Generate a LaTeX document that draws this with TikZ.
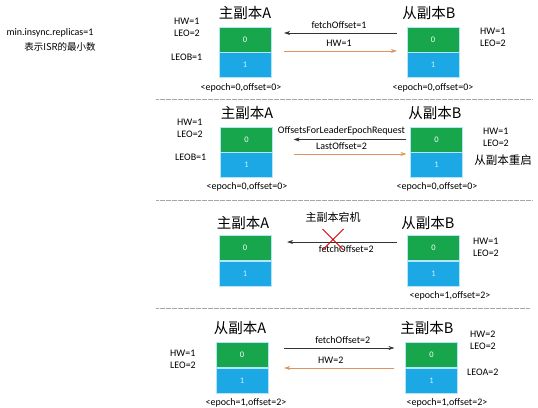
\documentclass[tikz,border=0pt]{standalone}
\usepackage{fontspec}
\setmainfont{Carlito}
\newfontfamily\cjk{Noto Sans CJK SC}
\usetikzlibrary{arrows.meta,positioning,shapes.misc}

\definecolor{cellgreen}{RGB}{24,166,76}
\definecolor{cellblue}{RGB}{28,168,228}
\definecolor{hworange}{RGB}{222,148,92}

\tikzset{
	cella/.style={minimum width=52pt,minimum height=25pt,inner sep=0pt,draw=white!70!cyan,line width=.4pt,text=white,font=\fontsize{8.5}{9}\selectfont},
	cellg/.style={cella,fill=cellgreen},
	cellb/.style={cella,fill=cellblue,text=white!80!cyan},
	ttl/.style={font=\cjk\fontsize{14.5}{16}\selectfont},
	lbl/.style={font=\fontsize{10}{12}\selectfont,align=left,inner sep=0pt,anchor=west},
	ep/.style={font=\fontsize{10}{11}\selectfont,inner sep=0pt},
	albl/.style={font=\fontsize{10}{11}\selectfont,inner sep=1.5pt},
	req/.style={draw=black!80,line width=.5pt,-{Stealth[length=6pt,width=4pt]}},
	rsp/.style={draw=hworange,line width=.6pt,-{Stealth[length=6pt,width=4pt]}},
	sep/.style={draw=black!35,line width=.4pt,dash pattern=on .5pt off .7pt}
}

\begin{document}
\begin{tikzpicture}[x=1pt,y=-1pt]
			\useasboundingbox (0,0) rectangle (538,407);
			\node[font=\fontsize{10}{11}\selectfont] (isr1) at (50,33) {min.insync.replicas=1};
			\node[font=\cjk\fontsize{9.5}{11}\selectfont] (isr2) at (60,47) {表示ISR的最小数};
			
			% leader A, follower B
			\node[ttl] (a1t) at (245,13) {主副本A}; \node[ttl] (b1t) at (429,13) {从副本B};
			\node[cellg] (a1g) at (245,39.5) {0}; \node[cellb,below=0pt of a1g] (a1b) {1};
			\node[cellg] (b1g) at (433,39.5) {0}; \node[cellb,below=0pt of b1g] (b1b) {1};
			\node[lbl] (a1hw) at (174,27) {HW=1\\LEO=2}; \node[lbl] (a1leo) at (171,57) {LEOB=1};
			\node[lbl] (b1hw) at (480,37) {HW=1\\LEO=2};
			\node[ep] (a1e) at (241,88) {<epoch=0,offset=0>}; \node[ep] (b1e) at (433,88) {<epoch=0,offset=0>};
			\draw[req,shorten <=10pt,shorten >=13pt] ([yshift=6.5pt]b1g.west) -- node[albl,above=3pt] {fetchOffset=1} ([yshift=6.5pt]a1g.east);
			\draw[rsp,shorten <=13pt,shorten >=10pt] ([yshift=-11.5pt]a1g.east) -- node[albl,above=3pt] {HW=1} ([yshift=-11.5pt]b1g.west);
			\draw[sep] (156,99) -- (532,99);
			
			% follower B restarts
			\node[ttl] (a2t) at (247,113) {主副本A}; \node[ttl] (b2t) at (435,113) {从副本B};
			\node[cellg] (a2g) at (246.5,139.5) {0}; \node[cellb,below=0pt of a2g] (a2b) {1};
			\node[cellg] (b2g) at (436.5,139.5) {0}; \node[cellb,below=0pt of b2g] (b2b) {1};
			\node[lbl] (a2hw) at (177,128) {HW=1\\LEO=2}; \node[lbl] (a2leo) at (175,157) {LEOB=1};
			\node[lbl] (b2hw) at (483,137) {HW=1\\LEO=2};
			\node[font=\cjk\fontsize{11.5}{13}\selectfont] (b2re) at (503,160) {从副本重启};
			\node[ep] (a2e) at (247,187) {<epoch=0,offset=0>}; \node[ep] (b2e) at (437,187) {<epoch=0,offset=0>};
			\draw[req,shorten <=4pt,shorten >=21pt] (b2g.west) -- node[albl,above=3pt] {OffsetsForLeaderEpochRequest} (a2g.east);
			\draw[rsp,shorten <=21pt,shorten >=4pt] ([yshift=-14.5pt]a2g.east) -- node[albl,above=3pt] {LastOffset=2} ([yshift=-14.5pt]b2g.west);
			\draw[sep] (156,200) -- (532,200);
			
			% leader A goes down
			\node[ttl] (a3t) at (243,223) {主副本A}; \node[ttl] (b3t) at (428,223) {从副本B};
			\node[cellg] (a3g) at (245,248) {0}; \node[cellb,below=0pt of a3g] (a3b) {1};
			\node[cellg] (b3g) at (433.5,248) {0}; \node[cellb,below=0pt of b3g] (b3b) {1};
			\node[lbl] (b3hw) at (473,247) {HW=1\\LEO=2};
			\node[ep] (b3e) at (450,296) {<epoch=1,offset=2>};
			\node[font=\cjk\fontsize{11}{13}\selectfont] (down) at (333,217) {主副本宕机};
			\draw[req,shorten <=10pt,shorten >=16pt] ([yshift=6pt]b3g.west) -- node[albl,below=2pt,xshift=7pt] {fetchOffset=2} ([yshift=6pt]a3g.east);
			\node[cross out,draw=red!85!black,line width=1pt,minimum size=20pt,inner sep=0pt] (xmark) at (333,239.5) {};
			\draw[sep] (156,308) -- (530,308);
			
			% B becomes leader
			\node[ttl] (a4t) at (240,328) {从副本A}; \node[ttl] (b4t) at (427,328) {主副本B};
			\node[cellg] (a4g) at (242,355) {0}; \node[cellb,below=0pt of a4g] (a4b) {1};
			\node[cellg] (b4g) at (431.5,355) {0}; \node[cellb,below=0pt of b4g] (b4b) {1};
			\node[lbl] (a4hw) at (170,359) {HW=1\\LEO=2};
			\node[lbl] (b4hw) at (470,340) {HW=2\\LEO=2}; \node[lbl] (b4leo) at (467,372) {LEOA=2};
			\node[ep] (a4e) at (246,403) {<epoch=1,offset=2>}; \node[ep] (b4e) at (447,403) {<epoch=1,offset=2>};
			\draw[req,shorten <=16pt,shorten >=11pt] ([yshift=7pt]a4g.east) -- node[albl,above=3pt,xshift=6pt] {fetchOffset=2} ([yshift=7pt]b4g.west);
			\draw[rsp,shorten <=11pt,shorten >=16pt] ([yshift=-13pt]b4g.west) -- node[albl,above=3pt,xshift=-6pt] {HW=2} ([yshift=-13pt]a4g.east);
\end{tikzpicture}
\end{document}
